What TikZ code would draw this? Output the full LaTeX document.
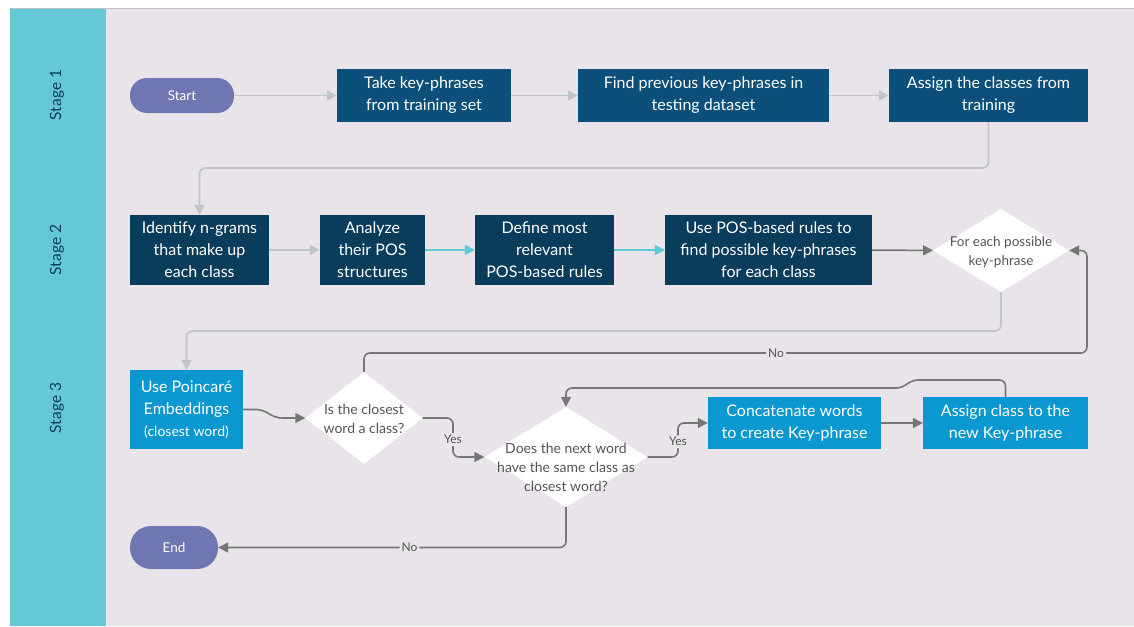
\documentclass[tikz,border=0pt]{standalone}
\usepackage{fontspec}
\setmainfont{Lato}
\usetikzlibrary{arrows.meta,shapes.geometric}
\definecolor{panel}{HTML}{E8E4E9}
\definecolor{lane}{HTML}{64C9D5}
\definecolor{laneText}{HTML}{0C3A5E}
\definecolor{navyA}{HTML}{0B4F7A}
\definecolor{navyB}{HTML}{0A3D5C}
\definecolor{blueC}{HTML}{0B97CF}
\definecolor{pill}{HTML}{6E77B2}
\definecolor{lightLine}{HTML}{BFC5C9}
\definecolor{darkLine}{HTML}{767676}
\definecolor{cyanLine}{HTML}{5CC8D8}
\definecolor{qText}{HTML}{555555}

\begin{document}
\begin{tikzpicture}[x=1pt,y=-1pt,
  boxA/.style={rectangle,fill=navyA,text=white,align=center,inner sep=0pt,
    font=\fontsize{16}{22}\selectfont,minimum height=53pt},
  boxB/.style={boxA,fill=navyB,minimum height=70pt},
  boxC/.style={boxA,fill=blueC},
  terminal/.style={rectangle,rounded corners=17pt,fill=pill,text=white,
    font=\fontsize{13.5}{16}\selectfont},
  question/.style={diamond,fill=white,inner sep=0pt,aspect=1.5},
  qlabel/.style={text=qText,align=center,font=\fontsize{14}{19}\selectfont},
  stagelabel/.style={rotate=90,text=laneText,font=\fontsize{15.5}{17}\selectfont},
  lightflow/.style={draw=lightLine,line width=1.6pt,rounded corners=6pt,
    -{Triangle[length=10pt,width=10pt]}},
  cyanflow/.style={lightflow,draw=cyanLine,fill=cyanLine},
  darkflow/.style={lightflow,draw=darkLine},
  yesno/.style={fill=panel,text=qText,inner sep=2pt,font=\fontsize{12}{14}\selectfont}]
\useasboundingbox (0,0) rectangle (1134,626);
% Drawing swimlane
\fill[white] (0,0) rectangle (1134,626);
\fill[panel] (10,8) rectangle (1134,626);
\fill[lane] (10,8) rectangle (106,626);
\draw[lightLine,line width=0.8pt] (10,8) -- (1134,8);
\node[stagelabel] (stage1) at (57,95) {Stage 1};
\node[stagelabel] (stage2) at (57,250) {Stage 2};
\node[stagelabel] (stage3) at (57,408) {Stage 3};
% Stage 1
\node[terminal,minimum width=104pt,minimum height=35pt] (start) at (182,95.5) {Start};
\node[boxA,minimum width=174pt] (take) at (424,95.5) {Take key-phrases\\from training set};
\node[boxA,minimum width=251pt] (find) at (703.5,95.5) {Find previous key-phrases in\\testing dataset};
\node[boxA,minimum width=199pt] (assign) at (988.5,95.5) {Assign the classes from\\training};
% Stage 2
\node[boxB,minimum width=139pt] (ngrams) at (199.5,250) {Identify n-grams\\that make up\\each class};
\node[boxB,minimum width=105pt] (analyze) at (372.5,250) {Analyze\\their POS\\structures};
\node[boxB,minimum width=139pt] (define) at (544.5,250) {Define most\\relevant\\POS-based rules};
\node[boxB,minimum width=207pt] (usepos) at (768.5,250) {Use POS-based rules to\\find possible key-phrases\\for each class};
\node[question,minimum width=136pt,minimum height=83pt,
  label={[qlabel,font=\fontsize{13.5}{19}\selectfont,yshift=-2pt]center:For each possible\\key-phrase}] (each) at (1001,250.5) {};
% Stage 3
\node[boxC,minimum width=113pt,minimum height=79pt] (poincare) at (186.5,409.5)
  {Use Poincaré\\Embeddings\\{\fontsize{14}{16}\selectfont(closest word)}};
\node[question,minimum width=117pt,minimum height=92pt,
  label={[qlabel,yshift=-1pt]center:Is the closest\\word a class?}] (isclass) at (364,418) {};
\node[question,minimum width=163pt,minimum height=100pt,
  label={[qlabel,yshift=-10pt]center:Does the next word\\have the same class as\\closest word?}] (nextword) at (566,457) {};
\node[boxC,minimum width=173pt,minimum height=52pt] (concat) at (794.5,423) {Concatenate words\\to create Key-phrase};
\node[boxC,minimum width=165pt,minimum height=52pt] (assignkp) at (1005.5,423) {Assign class to the\\new Key-phrase};
\node[terminal,minimum width=88pt,minimum height=43pt,rounded corners=21pt] (end) at (174,547.5) {End};
% Done with nodes; drawing connectors
\draw[lightflow] (start) -- (take);
\draw[lightflow] (take) -- (find);
\draw[lightflow] (find) -- (assign);
\draw[lightflow] (assign.south) -- (988.5,168) -| (ngrams.north);
\draw[lightflow] (ngrams) -- (analyze);
\draw[cyanflow] (analyze) -- (define);
\draw[cyanflow] (define) -- (usepos);
\draw[darkflow] (usepos) -- (each);
\draw[lightflow] (each.south) -- (1001,331) -| (poincare.north);
\draw[darkflow] (poincare.east) -- (262,409.5) -- (276,418) -- (isclass.west);
\draw[darkflow] (isclass.north) -- (364,353) -- node[yesno,pos=0.57]{No} (1087,353) -- (1087,250.5) -- (each.east);
\draw[darkflow] (isclass.east) -- (453,418) -- node[yesno,pos=0.55]{Yes} (453,457) -- (nextword.west);
\draw[darkflow] (nextword.east) -- (678,457) -- node[yesno,pos=0.45]{Yes} (678,423) -- (concat.west);
\draw[darkflow] (concat) -- (assignkp);
\draw[darkflow] (assignkp.north) -- (1005.5,380) -- (912,380) -- (902,388) -- (566,388) -- (nextword.north);
\draw[darkflow] (nextword.south) -- (566,547.5) -- node[yesno,pos=0.45]{No} (end.east);
% Done with connectors
\end{tikzpicture}
\end{document}
